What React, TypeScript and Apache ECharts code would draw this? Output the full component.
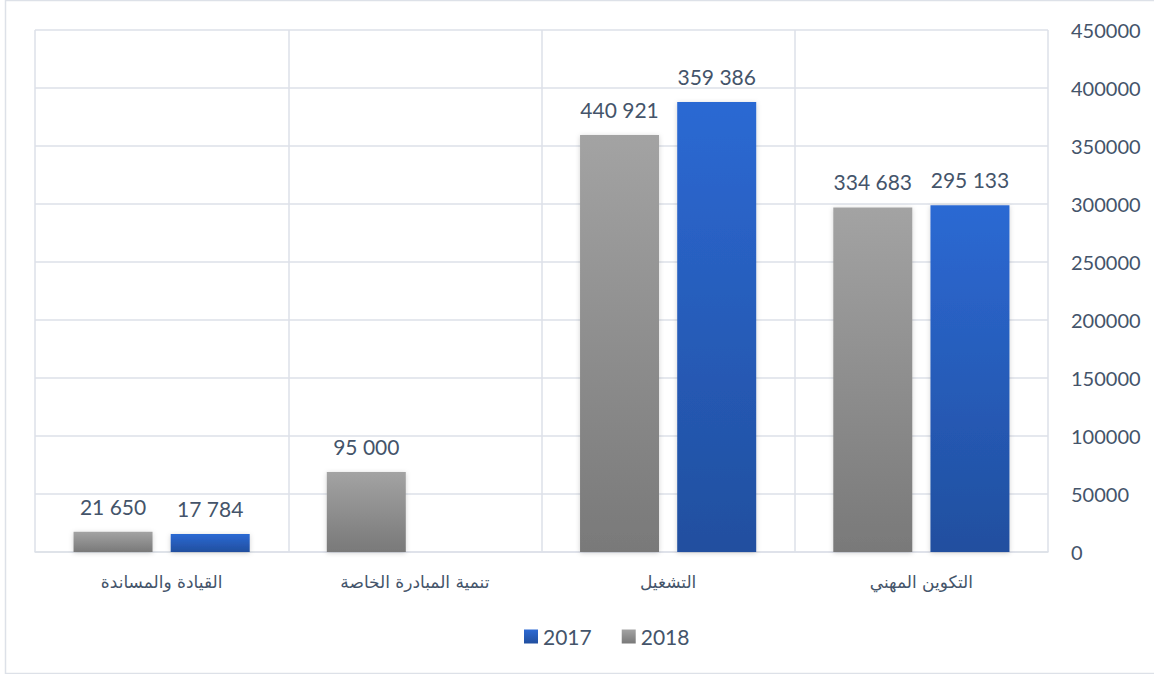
import React, { useEffect, useRef } from "react";
import * as echarts from "echarts";

const categories = ["التكوين المهني", "التشغيل", "تنمية المبادرة الخاصة", "القيادة والمساندة"];
const heights2018 = [297000, 359400, 69000, 17500];
const heights2017 = [299000, 388000, null, 15500];
const labels2018 = ["334 683", "440 921", "95 000", "21 650"];
const labels2017 = ["295 133", "359 386", "", "17 784"];
const yTicks = { min: 0, max: 450000, interval: 50000 };

const TEXT = "#44546a";
const GRID = "#dde1e8";
const NUM_FONT = "Lato";

export default function App() {
  const ref = useRef<HTMLDivElement>(null);
  useEffect(() => {
    const chart = echarts.init(ref.current!, null, { renderer: "svg" });
    const grayGrad = new echarts.graphic.LinearGradient(0, 0, 0, 1, [
      { offset: 0, color: "#a3a3a3" },
      { offset: 1, color: "#797979" },
    ]);
    const blueGrad = new echarts.graphic.LinearGradient(0, 0, 0, 1, [
      { offset: 0, color: "#2c69d3" },
      { offset: 1, color: "#214f9f" },
    ]);
    const shadow = { shadowBlur: 5, shadowColor: "rgba(0,0,0,0.18)", shadowOffsetY: 1 };
    chart.setOption({
      animation: false,
      graphic: [
        {
          type: "rect",
          shape: { x: 5.5, y: 0.5, width: 1160, height: 673 },
          style: { fill: "none", stroke: GRID, lineWidth: 1.5 },
          silent: true,
        },
      ],
      grid: { left: 35, right: 106, top: 30, bottom: 122, containLabel: false, outerBoundsMode: "none" },
      legend: {
        data: ["2017", "2018"],
        top: 621,
        left: 519,
        itemWidth: 14,
        itemHeight: 14,
        itemGap: 30,
        icon: "rect",
        textStyle: { color: TEXT, fontSize: 21, fontFamily: NUM_FONT },
      },
      xAxis: {
        type: "category",
        data: categories,
        inverse: true,
        axisTick: { show: false },
        axisLine: { show: true, lineStyle: { color: GRID, width: 1.5 } },
        splitLine: { show: true, lineStyle: { color: GRID, width: 1.5 } },
        axisLabel: { color: TEXT, fontSize: 17, fontFamily: "DejaVu Sans", margin: 21 },
      },
      yAxis: {
        type: "value",
        position: "right",
        min: yTicks.min,
        max: yTicks.max,
        interval: yTicks.interval,
        axisLine: { show: false },
        axisTick: { show: false },
        splitLine: { show: true, lineStyle: { color: GRID, width: 1.5 } },
        axisLabel: {
          color: TEXT,
          fontSize: 20,
          fontFamily: NUM_FONT,
          align: "left",
          margin: 23,
          formatter: (v: number) => String(v),
        },
      },
      series: [
        {
          name: "2018",
          type: "bar",
          data: heights2018,
          barWidth: 79,
          barGap: "23%",
          itemStyle: { color: grayGrad, ...shadow },
          label: {
            show: true,
            position: "top",
            distance: 15,
            color: TEXT,
            fontSize: 21,
            fontFamily: NUM_FONT,
            formatter: (p: any) => labels2018[p.dataIndex],
          },
        },
        {
          name: "2017",
          type: "bar",
          data: heights2017,
          barWidth: 79,
          barGap: "23%",
          itemStyle: { color: blueGrad, ...shadow },
          label: {
            show: true,
            position: "top",
            distance: 15,
            color: TEXT,
            fontSize: 21,
            fontFamily: NUM_FONT,
            formatter: (p: any) => labels2017[p.dataIndex],
          },
        },
      ],
    });
    return () => chart.dispose();
  }, []);
  return (
    <div
      ref={ref}
      style={{ position: "fixed", left: 0, top: 0, width: 1154, height: 674, background: "#fff" }}
    />
  );
}
